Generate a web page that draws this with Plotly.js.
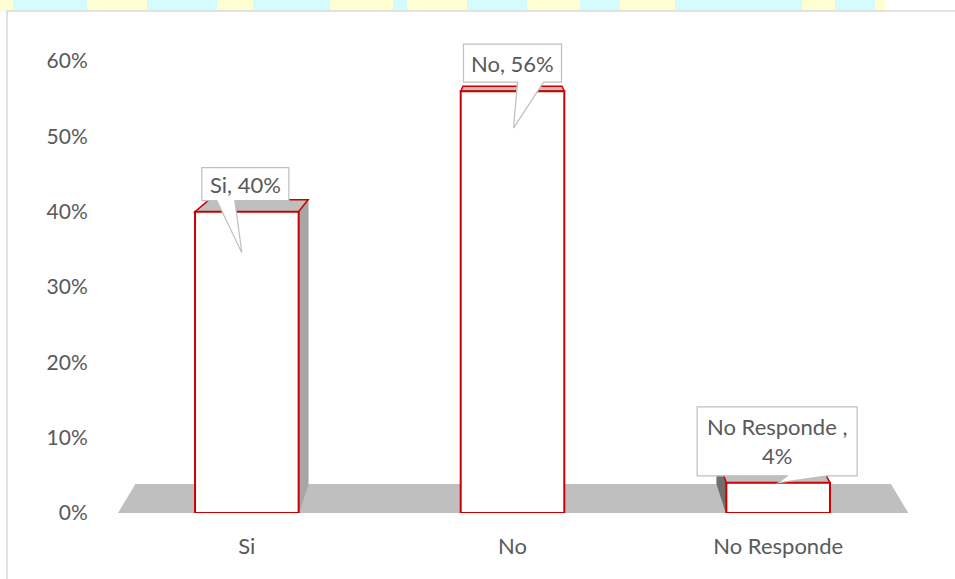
<!DOCTYPE html>
<html>
<head>
<meta charset="utf-8">
<script src="https://cdn.plot.ly/plotly-3.0.1.min.js"></script>
<style>html,body{margin:0;padding:0;background:#fff;}#chart{width:955px;height:579px;}</style>
</head>
<body>
<div id="chart"></div>
<script>
// ---- data ----
const categories = ['Si', 'No', 'No Responde'];
const values = [0.40, 0.56, 0.04];
const calloutLabels = ['Si, 40%', 'No, 56%', 'No Responde ,<br>4%'];
const yTickVals = [0, 0.1, 0.2, 0.3, 0.4, 0.5, 0.6];
const yTickText = ['0%', '10%', '20%', '30%', '40%', '50%', '60%'];

// ---- style ----
const FONT = 'Lato, "Open Sans", "Liberation Sans", sans-serif';
const TXT = '#595959';
const RED = '#CC0000';
const BAR_W = 0.39;
const DEPTH_Y = 0.0385;      // floor / bar depth (y data units)
const DEPTH_SCALE_X = 0.956; // perspective shrink toward centre
const DEPTH_SCALE_Y = 0.943;
const VX = 1;                // vanishing x (data)

const W = 955, H = 579;
const M = {l: 114, r: 44, t: 20, b: 66};
const PW = W - M.l - M.r, PH = H - M.t - M.b;
// 60% sits at 61px from top; plot area extended upward so callouts are not clipped
const Y_TOP = 0.6 * PH / (H - M.b - 61);
const px = v => (v - M.l) / PW;
const py = v => (H - M.b - v) / PH;

const backX = x => VX + DEPTH_SCALE_X * (x - VX);
const backY = y => DEPTH_Y + DEPTH_SCALE_Y * y;

// callout geometry in pixels relative to bar top centre (y up)
const callouts = [
  {L: -45, R: 42, T: 44, B: 11, a: -30, b: -12, tx: -5, ty: -41},
  {L: -49, R: 49, T: 47, B: 9, a: 5, b: 31, tx: 1, ty: -37},
  {L: -81, R: 79, T: 76, B: 7, a: 9, b: 49, tx: 0, ty: 0}
];

const shapes = [];
// background watermark strip at top
shapes.push({type: 'rect', xref: 'paper', yref: 'paper', x0: px(0), x1: px(885), y0: py(10.5), y1: py(0),
  fillcolor: '#D5FBFF', line: {width: 0}, layer: 'below'});
[[0, 13], [87, 147], [217, 253], [330, 393], [407, 467], [527, 580], [620, 675], [802, 835], [875, 885]].forEach(s => {
  shapes.push({type: 'rect', xref: 'paper', yref: 'paper', x0: px(s[0]), x1: px(s[1]), y0: py(10.5), y1: py(0),
    fillcolor: '#FFFDD2', line: {width: 0}, layer: 'below'});
});
// chart border
shapes.push({type: 'rect', xref: 'paper', yref: 'paper', x0: px(7), x1: px(970), y0: py(590), y1: py(11),
  fillcolor: 'rgba(0,0,0,0)', line: {color: '#D9D9D9', width: 1.5}, layer: 'below'});
// floor
const fl = -0.485, fr = 2.49;
shapes.push({type: 'path', xref: 'x', yref: 'y', layer: 'below',
  path: `M ${fl},0 L ${fr},0 L ${backX(fr)},${DEPTH_Y} L ${backX(fl)},${DEPTH_Y} Z`,
  fillcolor: '#BFBFBF', line: {width: 0}});
// bar depth faces
values.forEach((v, i) => {
  const xl = i - BAR_W / 2, xr = i + BAR_W / 2;
  const bxl = backX(xl), bxr = backX(xr), by0 = backY(0), byt = backY(v);
  if (bxr > xr) {
    shapes.push({type: 'path', xref: 'x', yref: 'y', layer: 'below',
      path: `M ${xr},0 L ${bxr},${by0} L ${bxr},${byt} L ${xr},${v} Z`,
      fillcolor: '#A6A6A6', line: {color: '#A6A6A6', width: 1}});
  }
  if (bxl < xl) {
    shapes.push({type: 'path', xref: 'x', yref: 'y', layer: 'below',
      path: `M ${xl},0 L ${bxl},${by0} L ${bxl},${byt} L ${xl},${v} Z`,
      fillcolor: '#6F6F6F', line: {color: '#6F6F6F', width: 1}});
  }
  shapes.push({type: 'path', xref: 'x', yref: 'y', layer: 'below',
    path: `M ${xl},${v} L ${xr},${v} L ${bxr},${byt} L ${bxl},${byt} Z`,
    fillcolor: '#BFBFBF', line: {color: RED, width: 1.5}});
});
// callout boxes
const annotations = [];
values.forEach((v, i) => {
  const c = callouts[i];
  shapes.push({type: 'path', xref: 'x', yref: 'y', xsizemode: 'pixel', ysizemode: 'pixel',
    xanchor: i, yanchor: v, layer: 'above',
    path: `M ${c.L},${c.T} L ${c.R},${c.T} L ${c.R},${c.B} L ${c.b},${c.B} L ${c.tx},${c.ty} L ${c.a},${c.B} L ${c.L},${c.B} Z`,
    fillcolor: '#FFFFFF', line: {color: '#BFBFBF', width: 1.2}});
  annotations.push({x: i, y: v, xref: 'x', yref: 'y', showarrow: false,
    xshift: (c.L + c.R) / 2, yshift: (c.T + c.B) / 2,
    text: calloutLabels[i], font: {family: FONT, size: 22, color: TXT}, align: 'center'});
});

const trace = {
  type: 'bar', x: categories.map((c, i) => i), y: values, width: BAR_W,
  marker: {color: '#FFFFFF', line: {color: RED, width: 2}},
  hoverinfo: 'skip'
};

const layout = {
  width: W, height: H, margin: M,
  paper_bgcolor: '#FFFFFF', plot_bgcolor: 'rgba(0,0,0,0)',
  showlegend: false,
  font: {family: FONT, size: 21, color: TXT},
  xaxis: {range: [-0.5, 2.5], tickvals: categories.map((c, i) => i), ticktext: categories,
    showgrid: false, zeroline: false, showline: false,
    ticks: 'outside', ticklen: 14, tickcolor: 'rgba(0,0,0,0)',
    tickfont: {family: FONT, size: 22, color: TXT}},
  yaxis: {range: [0, Y_TOP], tickvals: yTickVals, ticktext: yTickText,
    showgrid: false, zeroline: false, showline: false,
    ticks: 'outside', ticklen: 21, tickcolor: 'rgba(0,0,0,0)',
    tickfont: {family: FONT, size: 21, color: TXT}},
  shapes: shapes,
  annotations: annotations
};

Plotly.newPlot('chart', [trace], layout, {displayModeBar: false, staticPlot: true});
</script>
</body>
</html>
